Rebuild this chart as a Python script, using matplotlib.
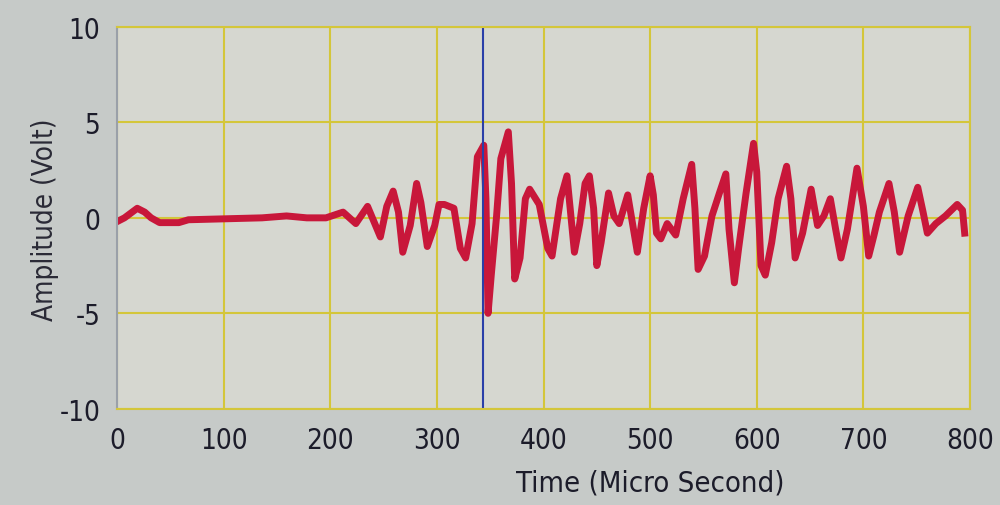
import numpy as np
import matplotlib.pyplot as plt

# 波形数据
time_us = [0, 7, 19, 26, 32, 40, 58, 67, 136, 159, 178, 196,
           212, 224, 235, 241, 247, 253, 259, 264, 268, 275, 281, 285, 291, 298, 302,
           307, 316, 322, 327, 333, 338, 344, 346, 348, 351, 356, 360, 367, 370, 373,
           378, 383, 387, 396, 404,
           408, 416, 422, 425, 429, 434, 439, 443, 447, 450, 454, 461, 466, 471, 479,
           485, 488, 494, 500, 503,
           506, 510, 516, 524, 531, 539, 542, 545, 551, 558, 565, 571, 574, 579, 583,
           590, 597, 600, 604, 608,
           614, 620, 628, 632, 636, 643, 651, 657, 663, 669, 674, 679, 685, 694, 700,
           705, 710,
           715, 724, 729, 734, 742, 751, 756, 760, 768, 777, 788, 793, 795]
amplitude = [-0.2, 0.0, 0.5, 0.3, 0.0, -0.25, -0.25, -0.1, 0.0, 0.1, 0.0, 0.0,
             0.3, -0.3, 0.6, -0.2, -1.0, 0.6, 1.4, 0.3, -1.8, -0.4, 1.8, 0.8, -1.5, -0.4, 0.7,
             0.7, 0.5, -1.6, -2.1, -0.3, 3.2, 3.8, 1.0, -5.0, -3.0, 0.1, 3.1, 4.5, 1.8, -3.2,
             -2.1, 1.0, 1.5, 0.7, -1.6,
             -2.0, 1.0, 2.2, 0.5, -1.8, -0.3, 1.8, 2.2, 0.5, -2.5, -1.3, 1.3, 0.1, -0.3, 1.2,
             -0.8, -1.8, 0.5, 2.2, 1.2,
             -0.8, -1.1, -0.3, -0.9, 1.0, 2.8, 0.5, -2.7, -2.0, 0.1, 1.3, 2.3, -0.6, -3.4, -1.6,
             1.3, 3.9, 2.4, -2.5, -3.0,
             -1.3, 1.0, 2.7, 1.0, -2.1, -0.8, 1.5, -0.4, 0.1, 1.0, -0.6, -2.1, -0.6, 2.6, 0.6,
             -2.0, -0.9,
             0.3, 1.8, 0.3, -1.8, 0.1, 1.6, 0.3, -0.8, -0.3, 0.1, 0.7, 0.4, -0.8]
cursor_t = 343

xticks = [0, 100, 200, 300, 400, 500, 600, 700, 800]
yticks = [-10, -5, 0, 5, 10]

plt.rcParams['font.family'] = ['DejaVu Sans']
plt.rcParams['font.stretch'] = 'condensed'
plt.rcParams['axes.unicode_minus'] = False

fig = plt.figure(figsize=(10, 5.06), dpi=100)
fig.patch.set_facecolor('#c6cac8')
ax = fig.add_axes([0.117, 0.19, 0.853, 0.755])
ax.set_facecolor('#d6d7d0')

ax.plot(time_us, amplitude, color='#c8173a', linewidth=5, solid_joinstyle='round')
ax.axvline(cursor_t, color='#2a3fa8', linewidth=1.5)

ax.set_xlim(0, 800)
ax.set_ylim(-10, 10)
ax.set_xticks(xticks)
ax.set_yticks(yticks)
ax.grid(True, color='#d4c63a', linewidth=1.5)
ax.set_axisbelow(True)
for s in ax.spines.values():
    s.set_color('#d4c63a')
    s.set_linewidth(1.5)
ax.spines['left'].set_color('#9aa0a8')
ax.tick_params(length=0, labelsize=20, colors='#1c1c2a', pad=12)

fig.text(0.045, 0.565, 'Amplitude (Volt)', rotation=90, ha='center', va='center',
         fontsize=20, color='#2a2a36')
fig.text(0.65, 0.045, 'Time (Micro Second)', ha='center', va='center',
         fontsize=21, color='#1c1c2a')

fig.savefig('out.png', dpi=100, facecolor=fig.get_facecolor())
